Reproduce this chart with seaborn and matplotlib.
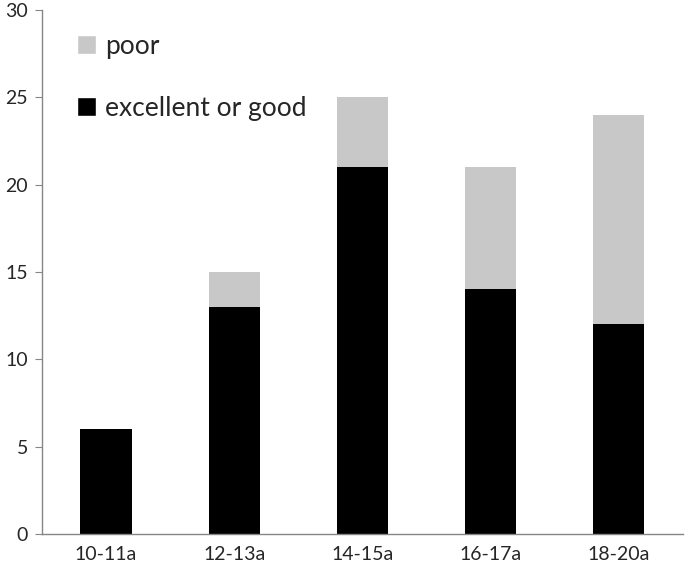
import numpy as np
import pandas as pd
import matplotlib.pyplot as plt
import seaborn as sns
from matplotlib.patches import Patch

# 数据
groups = ['10-11a', '12-13a', '14-15a', '16-17a', '18-20a']
excellent_or_good = [6, 13, 21, 14, 12]
poor = [0, 2, 4, 7, 12]

sns.set_style('white')
plt.rcParams['font.family'] = ['Lato', 'DejaVu Sans']

df = pd.DataFrame({'group': groups,
                   'good': excellent_or_good,
                   'total': np.array(excellent_or_good) + np.array(poor)})

fig = plt.figure(figsize=(6.85, 5.71), dpi=100)
ax = fig.add_axes([0.0613, 0.0648, 0.9357, 0.9177])

# 先画总数(灰)，再盖上黑色部分
sns.barplot(data=df, x='group', y='total', color='#C8C8C8', width=0.4,
            saturation=1, linewidth=0, edgecolor='none', ax=ax)
sns.barplot(data=df, x='group', y='good', color='black', width=0.4,
            saturation=1, linewidth=0, edgecolor='none', ax=ax)

ax.set_xlim(-0.5, 4.5)
ax.set_ylim(0, 30)
ax.set_yticks(range(0, 31, 5))
ax.set_xlabel('')
ax.set_ylabel('')

for s in ['top', 'right']:
    ax.spines[s].set_visible(False)
for s in ['left', 'bottom']:
    ax.spines[s].set_color('#868686')
    ax.spines[s].set_linewidth(1)

# x轴刻度在分类之间
ax.set_xticks(np.arange(-0.5, 5, 1), minor=True)
ax.tick_params(axis='x', which='major', length=0, labelsize=14, pad=9)
ax.tick_params(axis='x', which='minor', length=6, color='#868686', direction='out')
ax.tick_params(axis='y', length=5, color='#868686', direction='out', labelsize=14, left=True, pad=5)

handles = [Patch(facecolor='#C8C8C8', label='poor'),
           Patch(facecolor='black', label='excellent or good')]
ax.legend(handles=handles, loc='upper left', bbox_to_anchor=(0.055, 0.955),
          frameon=False, fontsize=19, handlelength=0.7, handleheight=0.7,
          handletextpad=0.35, labelspacing=1.4, borderpad=0, borderaxespad=0)

plt.savefig('out.png', dpi=100)
